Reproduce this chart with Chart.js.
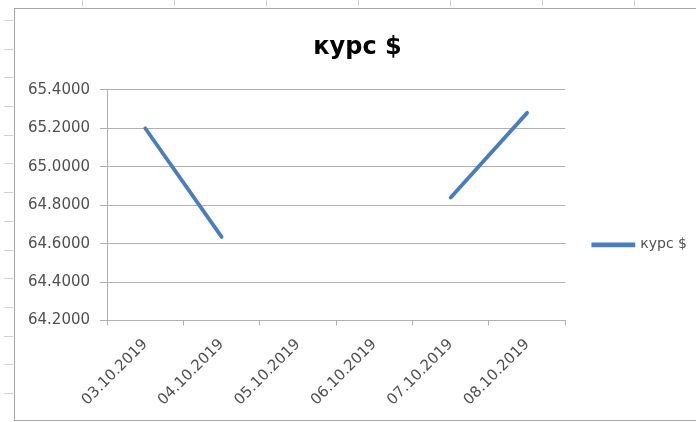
<!DOCTYPE html>
<html lang="ru">
<head>
    <meta charset="UTF-8">
    <title>курс $</title>
    <script src="https://cdn.jsdelivr.net/npm/chart.js"></script>
    <style>
        html, body {
            margin: 0;
            padding: 0;
            width: 696px;
            height: 422px;
            overflow: hidden;
            background-color: #ffffff;
        }
        /* spreadsheet cells peeking out around the chart */
        .rows {
            position: absolute;
            left: 4px;
            top: 0;
            width: 9px;
            height: 422px;
            background: repeating-linear-gradient(to bottom, transparent 0px, transparent 20px, #d0d0d0 20px, #d0d0d0 21px, transparent 21px, transparent 28.7px);
        }
        .cols {
            position: absolute;
            left: 0;
            top: 0;
            width: 696px;
            height: 6px;
            background: repeating-linear-gradient(to right, transparent 0px, transparent 82px, #d0d0d0 82px, #d0d0d0 83px, transparent 83px, transparent 92px);
        }
        .chart-box {
            position: absolute;
            left: 14px;
            top: 8px;
            width: 690px;
            height: 411px;
            border: 1px solid #a6a6a6;
            background: #ffffff;
        }
        canvas {
            display: block;
        }
    </style>
</head>
<body>
    <div class="rows"></div>
    <div class="cols"></div>
    <div class="chart-box">
        <canvas id="rateChart" width="682" height="411"></canvas>
    </div>
    <script>
        // data
        const dates = ['03.10.2019', '04.10.2019', '05.10.2019', '06.10.2019', '07.10.2019', '08.10.2019'];
        const rates = [65.20, 64.635, null, null, 64.84, 65.28]; // weekend gap
        const yTicks = [64.2, 64.4, 64.6, 64.8, 65.0, 65.2, 65.4];

        const seriesName = 'курс $';
        const lineBlue = '#4a7ebb';
        const gridGray = '#b0b0b0';
        const textGray = '#505050';

        const rateChart = new Chart(document.getElementById('rateChart').getContext('2d'), {
            type: 'line',
            data: {
                labels: dates,
                datasets: [{
                    label: seriesName,
                    data: rates,
                    borderColor: lineBlue,
                    backgroundColor: lineBlue,
                    borderWidth: 3.8,
                    borderCapStyle: 'round',
                    pointRadius: 0,
                    tension: 0,
                    spanGaps: false,
                    fill: false
                }]
            },
            options: {
                responsive: false,
                animation: false,
                layout: {
                    padding: { left: 3, right: 0, top: 0, bottom: 1 }
                },
                plugins: {
                    title: {
                        display: true,
                        text: seriesName,
                        color: '#000000',
                        font: { family: 'DejaVu Sans', size: 24, weight: 'bold' },
                        padding: { top: 24, bottom: 28 }
                    },
                    legend: {
                        position: 'right',
                        // empty title only pushes the entry down, like in the sheet
                        title: {
                            display: true,
                            text: ' ',
                            font: { size: 13 },
                            padding: { top: 0, bottom: 46 }
                        },
                        labels: {
                            boxWidth: 40,
                            boxHeight: 1,
                            padding: 28,
                            color: textGray,
                            font: { family: 'DejaVu Sans', size: 14 }
                        }
                    },
                    tooltip: { enabled: false }
                },
                scales: {
                    x: {
                        offset: true,
                        afterFit: scale => {
                            // don't let the slanted first label push the plot right
                            scale.paddingLeft = 0;
                            scale.paddingRight = 0;
                        },
                        grid: {
                            offset: true,
                            drawOnChartArea: false,
                            drawTicks: true,
                            tickLength: 5,
                            color: gridGray
                        },
                        border: { color: gridGray, width: 1 },
                        ticks: {
                            minRotation: 45,
                            maxRotation: 45,
                            padding: 10,
                            color: textGray,
                            font: { family: 'DejaVu Sans', size: 15 }
                        }
                    },
                    y: {
                        min: yTicks[0],
                        max: yTicks[yTicks.length - 1],
                        afterBuildTicks: scale => {
                            scale.ticks = yTicks.map(v => ({ value: v }));
                        },
                        grid: {
                            color: gridGray,
                            tickLength: 7
                        },
                        border: { color: gridGray, width: 1 },
                        ticks: {
                            padding: 10,
                            color: textGray,
                            font: { family: 'DejaVu Sans', size: 15 },
                            callback: v => Number(v).toFixed(4)
                        }
                    }
                }
            }
        });
    </script>
</body>
</html>
